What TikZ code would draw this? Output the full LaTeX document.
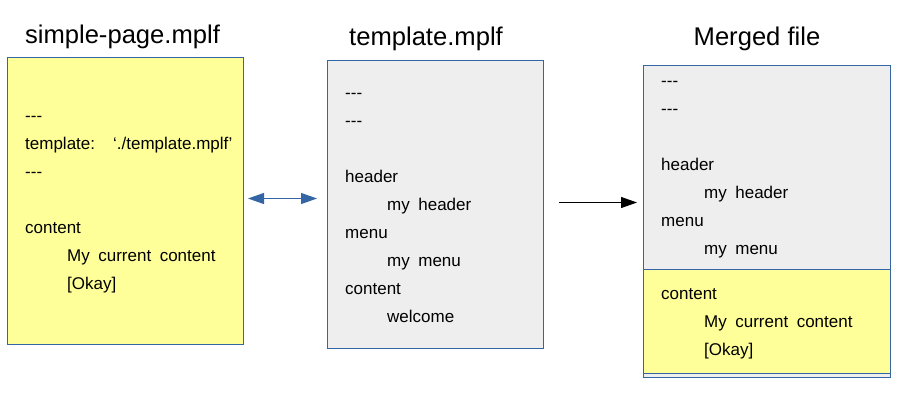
\documentclass[tikz,border=0pt]{standalone}
\usepackage{fontspec}
\setmainfont{Liberation Sans}
\usetikzlibrary{positioning,arrows.meta}

\definecolor{boxblue}{HTML}{3465A4}
\definecolor{noteyellow}{HTML}{FFFF99}
\definecolor{pagegray}{HTML}{EEEEEE}
\newcommand{\wsp}{\hspace{8.5pt}}
\newcommand{\dashes}{-{}-{}-}

\begin{document}
\begin{tikzpicture}[x=1pt,y=-1pt]
	\tikzset{filebox/.style = {draw=boxblue,line width=1pt,inner sep=0pt,anchor=north west}}
	\tikzset{title/.style = {anchor=base,inner sep=0pt,font=\fontsize{25.6}{30}\selectfont}}
	\tikzset{txt/.style = {anchor=base west,inner sep=0pt,font=\fontsize{17}{20}\selectfont}}
	\tikzset{func/.style = {-{Triangle[length=16pt,width=11pt]},line width=1pt}}
	\tikzset{link/.style = {{Triangle[length=16pt,width=11pt]}-{Triangle[length=16pt,width=11pt]},line width=1.2pt,draw=boxblue,fill=boxblue}}
	\useasboundingbox (0,0) rectangle (908,400);

	% boxes
	\node[filebox,fill=noteyellow,minimum width=236pt,minimum height=287pt] (simple) at (7,57){};
	\node[filebox,fill=pagegray,minimum width=216pt,minimum height=288pt] (template) at (327,60){};
	\node[filebox,fill=pagegray,minimum width=247pt,minimum height=312pt] (merged) at (643,65){};
	\node[filebox,fill=noteyellow,minimum width=247pt,minimum height=104pt] (mergedcontent) at (643,269){};

	% titles
	\node[title] (tsimple) at (122.5,43){simple-page.mplf};
	\node[title] (ttemplate) at (426,45){template.mplf};
	\node[title] (tmerged) at (757,45){Merged file};

	% simple-page.mplf
	\node[txt] (s1) at (25,121){\dashes};
	\node[txt] (s2) at (25,149){template:\hspace{18pt}‘./template.mplf’};
	\node[txt] (s3) at (25,177){\dashes};
	\node[txt] (s4) at (25,233){content};
	\node[txt] (s5) at (67,261){My\wsp current\wsp content};
	\node[txt] (s6) at (67,289){[Okay]};

	% template.mplf
	\node[txt] (t1) at (345,98){\dashes};
	\node[txt] (t2) at (345,126){\dashes};
	\node[txt] (t3) at (345,182){header};
	\node[txt] (t4) at (387,210){my\wsp header};
	\node[txt] (t5) at (345,238){menu};
	\node[txt] (t6) at (387,266){my\wsp menu};
	\node[txt] (t7) at (345,294){content};
	\node[txt] (t8) at (387,322){welcome};

	% merged file
	\node[txt] (m1) at (661,86){\dashes};
	\node[txt] (m2) at (661,114){\dashes};
	\node[txt] (m3) at (661,170){header};
	\node[txt] (m4) at (704,198){my\wsp header};
	\node[txt] (m5) at (661,226){menu};
	\node[txt] (m6) at (704,254){my\wsp menu};
	\node[txt] (m7) at (661,299){content};
	\node[txt] (m8) at (704,327){My\wsp current\wsp content};
	\node[txt] (m9) at (704,355){[Okay]};

	% edges
	\draw[link,shorten <=4pt,shorten >=10pt] ([yshift=2.5pt]simple.east) to ([yshift=6pt]template.west);
	\draw[func,shorten <=15pt,shorten >=6pt] ([yshift=2pt]template.east) to ([yshift=19pt]merged.west);
\end{tikzpicture}
\end{document}
